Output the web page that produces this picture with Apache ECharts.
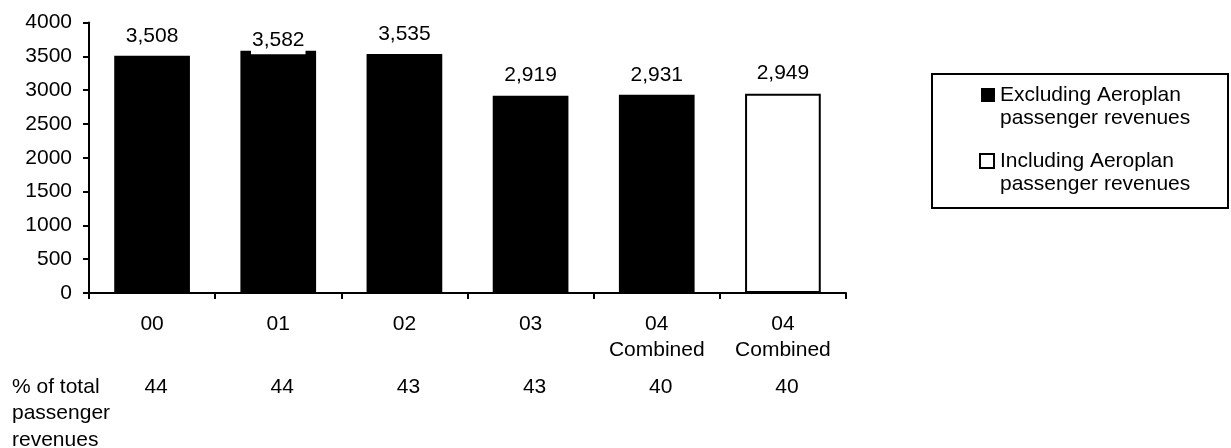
<!DOCTYPE html>
<html>
<head>
<meta charset="utf-8">
<script src="https://cdn.jsdelivr.net/npm/echarts@6/dist/echarts.min.js"></script>
<style>
  html, body { margin: 0; padding: 0; background: #fff; }
  #chart { width: 1231px; height: 448px; }
</style>
</head>
<body>
<div id="chart"></div>
<script>
// Passenger revenues by year, with and without Aeroplan
const categories = ['00', '01', '02', '03', '04\nCombined', '04\nCombined'];
const excludingValues = [3508, 3582, 3535, 2919, 2931, null];
const includingValues = [null, null, null, null, null, 2949];
const shareOfPassengerRevenues = ['44', '44', '43', '43', '40', '40'];
const seriesNames = ['Excluding Aeroplan passenger revenues', 'Including Aeroplan passenger revenues'];
const rowTitle = '% of total\npassenger\nrevenues';
const yMin = 0, yMax = 4000, yInterval = 500;

const FONT = "'Liberation Sans', Arial, Helvetica, sans-serif";
const FS = 21;

// labels that would poke above the plot are tucked onto the bar top on a white backing
const tuckedLabel = {
  offset: [0, 11.5],
  backgroundColor: '#fff',
  padding: [1, 1, 2, 1]
};
function toData(values) {
  return values.map(v => {
    if (v == null) return '-';
    if (v > yMax - 450) return { value: v, label: tuckedLabel };
    return v;
  });
}

const barLabel = {
  show: true,
  position: 'top',
  distance: 8,
  color: '#000',
  fontFamily: FONT,
  fontSize: FS,
  lineHeight: 24,
  formatter: p => p.value.toLocaleString('en-US')
};

const legendRich = {
  boxA: { width: 14, height: 14, backgroundColor: '#000', verticalAlign: 'middle', lineHeight: 23 },
  boxB: { width: 12, height: 12, backgroundColor: '#fff', borderColor: '#000', borderWidth: 2, verticalAlign: 'middle', lineHeight: 23 },
  gapA: { width: 5, lineHeight: 23 },
  gapB: { width: 7, lineHeight: 23 },
  ind: { width: 19, lineHeight: 23 },
  t: { fontSize: FS, fontFamily: FONT, color: '#000', lineHeight: 23, verticalAlign: 'middle' }
};

const chart = echarts.init(document.getElementById('chart'), null, { renderer: 'canvas' });
chart.setOption({
  animation: false,
  backgroundColor: '#fff',
  textStyle: { fontFamily: FONT, color: '#000' },
  grid: { left: 89, top: 22.6, right: 385, bottom: 155, containLabel: false },
  legend: {
    orient: 'vertical',
    left: 976,
    top: 83.5,
    padding: 0,
    itemGap: 20,
    itemWidth: 0,
    itemHeight: 0,
    icon: 'none',
    selectedMode: false,
    data: seriesNames,
    formatter: name => {
      const tag = name.indexOf('Excluding') === 0 ? 'A' : 'B';
      const lines = name.replace(' passenger', '\npassenger').split('\n');
      return '{box' + tag + '| }{gap' + tag + '| }{t|' + lines[0] + '}\n{ind| }{t|' + lines[1] + '}';
    },
    textStyle: { rich: legendRich, lineHeight: 23 }
  },
  xAxis: [
    {
      type: 'category',
      data: categories,
      position: 'bottom',
      axisLine: { lineStyle: { color: '#000', width: 2 } },
      axisTick: { show: true, length: 6, lineStyle: { color: '#000', width: 2 } },
      axisLabel: { color: '#000', fontFamily: FONT, fontSize: FS, lineHeight: 26, margin: 18, interval: 0 },
      splitLine: { show: false }
    },
    {
      type: 'category',
      data: shareOfPassengerRevenues,
      position: 'bottom',
      axisLine: { show: false },
      axisTick: { show: false },
      axisLabel: { color: '#000', fontFamily: FONT, fontSize: FS, lineHeight: 24, margin: 82, interval: 0, padding: [0, 0, 0, 8] },
      splitLine: { show: false }
    }
  ],
  yAxis: {
    type: 'value',
    min: yMin,
    max: yMax,
    interval: yInterval,
    axisLine: { show: true, lineStyle: { color: '#000', width: 2 } },
    axisTick: { show: true, length: 6, lineStyle: { color: '#000', width: 2 } },
    axisLabel: { color: '#000', fontFamily: FONT, fontSize: FS, margin: 17, formatter: v => String(v) },
    splitLine: { show: false }
  },
  series: [
    {
      name: seriesNames[0],
      type: 'bar',
      xAxisIndex: 0,
      data: toData(excludingValues),
      barWidth: '60%',
      barGap: '-100%',
      itemStyle: { color: '#000' },
      label: barLabel
    },
    {
      name: seriesNames[1],
      type: 'bar',
      xAxisIndex: 0,
      data: toData(includingValues),
      barWidth: '60%',
      barGap: '-100%',
      itemStyle: { color: '#fff', borderColor: '#000', borderWidth: 2 },
      label: barLabel
    }
  ],
  graphic: [
    {
      type: 'rect',
      shape: { x: 932, y: 74, width: 296, height: 134 },
      style: { fill: 'none', stroke: '#000', lineWidth: 2 }
    },
    {
      type: 'text',
      left: 12,
      top: 373.5,
      style: { text: rowTitle, font: FS + 'px ' + FONT, fill: '#000', lineHeight: 26.5 }
    }
  ]
});
</script>
</body>
</html>
